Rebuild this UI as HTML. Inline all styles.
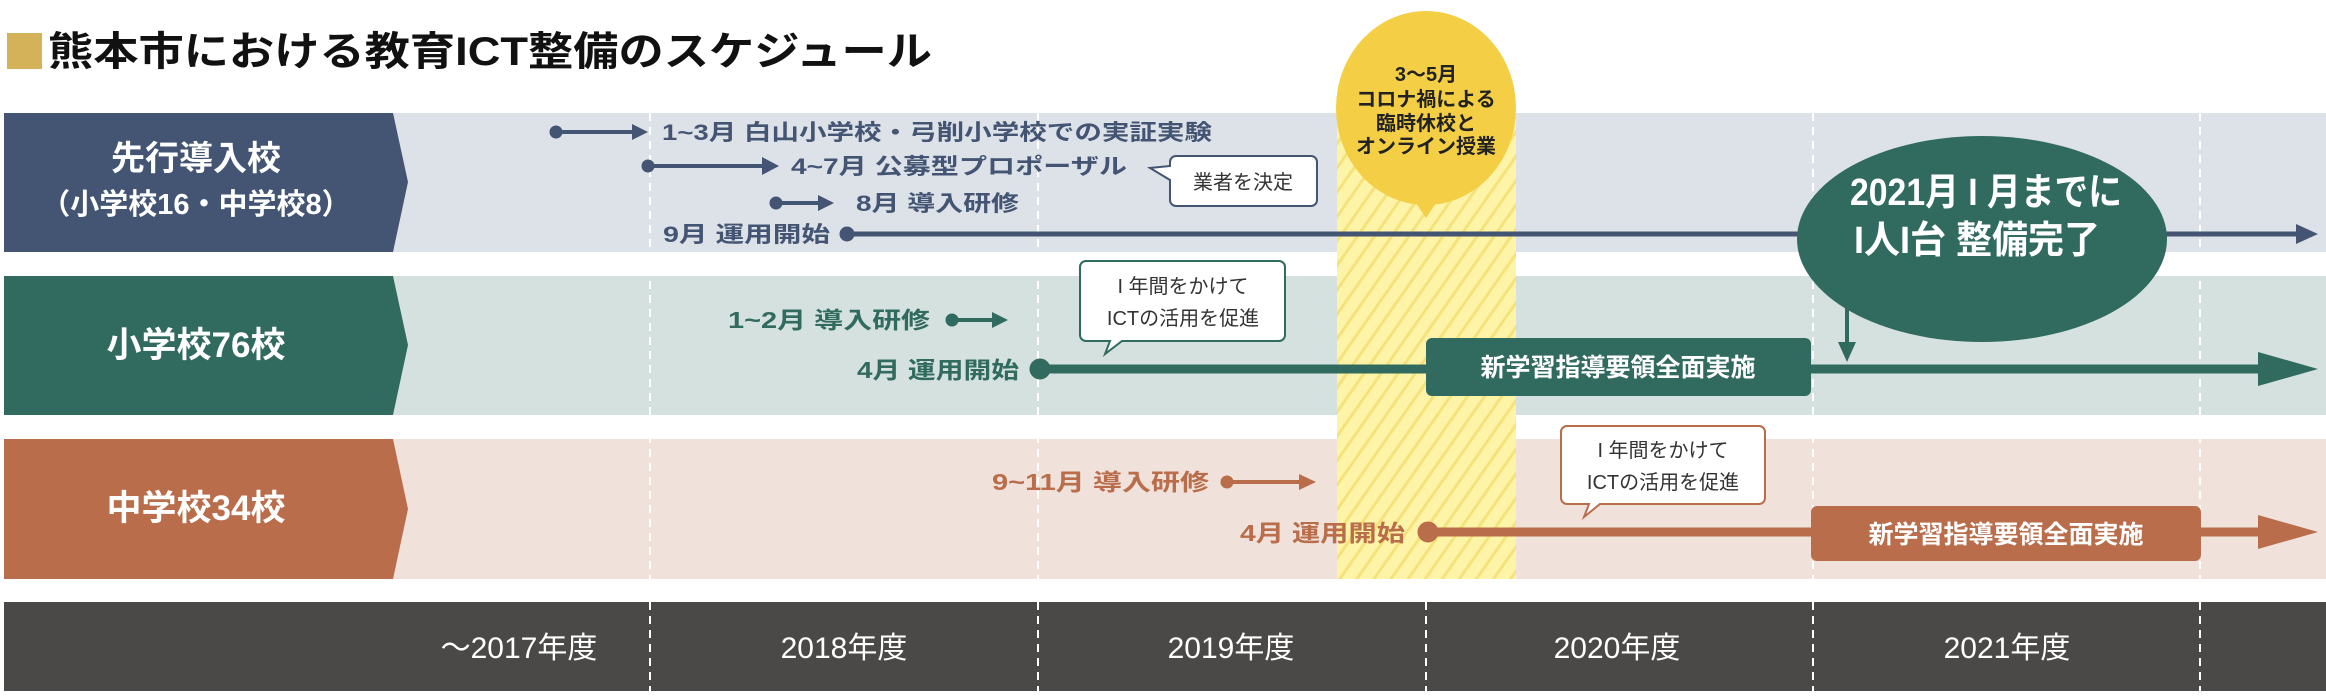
<!DOCTYPE html>
<html><head><meta charset="utf-8"><style>
html,body{margin:0;padding:0;background:#fff;}
svg{display:block;}
text{font-family:"Liberation Sans","Noto Sans CJK JP",sans-serif;}
</style></head><body>
<svg width="2326" height="696" viewBox="0 0 2326 696" xmlns="http://www.w3.org/2000/svg">
<defs>
<pattern id="st" width="14" height="14" patternUnits="userSpaceOnUse" patternTransform="rotate(35)">
<rect width="14" height="14" fill="#fdf4a8"/><rect width="3" height="14" fill="#f5e27a"/>
</pattern>
</defs>
<!-- title -->
<rect x="7" y="33" width="35" height="36" fill="#d4b25a"/>
<text x="48" y="65" font-size="40" font-weight="bold" fill="#111" textLength="884" lengthAdjust="spacingAndGlyphs">熊本市における教育ICT整備のスケジュール</text>

<!-- bands -->
<rect x="4" y="113" width="2322" height="139" fill="#dde1e8"/>
<rect x="4" y="276" width="2322" height="139" fill="#d5e1df"/>
<rect x="4" y="439" width="2322" height="140" fill="#f0e1db"/>
<!-- yellow column -->
<rect x="1337" y="110" width="179" height="469" fill="url(#st)"/>
<!-- dashed lines -->
<g stroke="#fff" stroke-width="2" stroke-dasharray="8,6">
<line x1="650" y1="113" x2="650" y2="579"/><line x1="1038" y1="113" x2="1038" y2="579"/>
<line x1="1813" y1="113" x2="1813" y2="579"/><line x1="2200" y1="113" x2="2200" y2="579"/>
</g>
<!-- labels -->
<polygon points="4,113 393,113 408,182 393,252 4,252" fill="#435573"/>
<polygon points="4,276 393,276 408,345 393,415 4,415" fill="#316a5f"/>
<polygon points="4,439 393,439 408,509 393,579 4,579" fill="#b96d4b"/>
<g fill="#fff" font-weight="bold" text-anchor="middle">
<text x="196" y="170" font-size="34">先行導入校</text>
<text x="196" y="214" font-size="29">（小学校16・中学校8）</text>
<text x="196" y="357" font-size="35">小学校76校</text>
<text x="196" y="520" font-size="35">中学校34校</text>
</g>

<!-- row1 -->
<g fill="#435573" stroke="#435573">
<circle cx="556" cy="132" r="6"/><line x1="556" y1="132" x2="635" y2="132" stroke-width="4"/><polygon points="632,124 648,132 632,140" stroke="none"/>
<circle cx="648" cy="166" r="6"/><line x1="648" y1="166" x2="765" y2="166" stroke-width="4"/><polygon points="762,157 779,166 762,175" stroke="none"/>
<circle cx="776" cy="203" r="6"/><line x1="776" y1="203" x2="822" y2="203" stroke-width="4"/><polygon points="818,195 834,203 818,211" stroke="none"/>
<circle cx="847" cy="234" r="7"/><line x1="847" y1="234" x2="2300" y2="234" stroke-width="5"/><polygon points="2296,224 2318,234 2296,244" stroke="none"/>
</g>
<g fill="#435573" font-weight="bold" font-size="22">
<text x="662" y="140" textLength="550" lengthAdjust="spacingAndGlyphs">1~3月 白山小学校・弓削小学校での実証実験</text>
<text x="791" y="174" textLength="336" lengthAdjust="spacingAndGlyphs">4~7月 公募型プロポーザル</text>
<text x="856" y="211" textLength="163" lengthAdjust="spacingAndGlyphs">8月 導入研修</text>
<text x="663" y="242" textLength="167" lengthAdjust="spacingAndGlyphs">9月 運用開始</text>
</g>
<path d="M1176,156 H1311 a6,6 0 0 1 6,6 V200 a6,6 0 0 1 -6,6 H1176 a6,6 0 0 1 -6,-6 V180 L1150,168 L1170,166 V162 a6,6 0 0 1 6,-6Z" fill="#fff" stroke="#435573" stroke-width="2"/>
<text x="1243" y="189" font-size="20" fill="#333" text-anchor="middle">業者を決定</text>

<!-- yellow ellipse -->
<ellipse cx="1426" cy="108" rx="90" ry="97" fill="#f4cf46"/>
<polygon points="1414,200 1438,200 1426,218" fill="#f4cf46"/>
<g font-size="20" font-weight="bold" fill="#222" text-anchor="middle">
<text x="1426" y="81">3～5月</text><text x="1426" y="106">コロナ禍による</text>
<text x="1426" y="130">臨時休校と</text><text x="1426" y="153">オンライン授業</text>
</g>

<!-- row2 -->
<g fill="#316a5f" stroke="#316a5f">
<circle cx="952" cy="320" r="6"/><line x1="952" y1="320" x2="995" y2="320" stroke-width="4"/><polygon points="992,312 1008,320 992,328" stroke="none"/>
<circle cx="1040" cy="369" r="10"/><line x1="1040" y1="369" x2="2262" y2="369" stroke-width="9"/><polygon points="2258,352 2318,369 2258,386" stroke="none"/>
</g>
<g fill="#316a5f" font-weight="bold" font-size="23">
<text x="728" y="328" textLength="202" lengthAdjust="spacingAndGlyphs">1~2月 導入研修</text>
<text x="857" y="378" textLength="162" lengthAdjust="spacingAndGlyphs">4月 運用開始</text>
</g>
<path d="M1086,261 H1279 a6,6 0 0 1 6,6 V335 a6,6 0 0 1 -6,6 H1122 L1105,354 L1110,341 H1086 a6,6 0 0 1 -6,-6 V267 a6,6 0 0 1 6,-6Z" fill="#fff" stroke="#316a5f" stroke-width="2"/>
<g font-size="20" fill="#333" text-anchor="middle"><text x="1183" y="293">I 年間をかけて</text><text x="1183" y="325">ICTの活用を促進</text></g>
<rect x="1426" y="338" width="385" height="58" rx="6" fill="#316a5f"/>
<text x="1618" y="376" font-size="25" font-weight="bold" fill="#fff" text-anchor="middle">新学習指導要領全面実施</text>

<!-- green ellipse -->
<ellipse cx="1982" cy="239" rx="185" ry="103" fill="#316a5f"/>
<line x1="1847" y1="280" x2="1847" y2="345" stroke="#316a5f" stroke-width="4"/>
<polygon points="1838,342 1856,342 1847,362" fill="#316a5f"/>
<g fill="#fff" font-weight="bold" font-size="38">
<text x="1850" y="205" textLength="272" lengthAdjust="spacingAndGlyphs">2021月 I 月までに</text>
<text x="1854" y="253" textLength="246" lengthAdjust="spacingAndGlyphs">I人I台 整備完了</text>
</g>

<!-- row3 -->
<g fill="#b96d4b" stroke="#b96d4b">
<circle cx="1227" cy="482" r="6"/><line x1="1227" y1="482" x2="1302" y2="482" stroke-width="4"/><polygon points="1299,474 1316,482 1299,490" stroke="none"/>
<circle cx="1428" cy="532" r="10"/><line x1="1428" y1="532" x2="2262" y2="532" stroke-width="9"/><polygon points="2258,515 2318,532 2258,549" stroke="none"/>
</g>
<g fill="#b96d4b" font-weight="bold" font-size="23">
<text x="992" y="490" textLength="217" lengthAdjust="spacingAndGlyphs">9~11月 導入研修</text>
<text x="1240" y="541" textLength="165" lengthAdjust="spacingAndGlyphs">4月 運用開始</text>
</g>
<path d="M1567,426 H1759 a6,6 0 0 1 6,6 V498 a6,6 0 0 1 -6,6 H1600 L1584,517 L1589,504 H1567 a6,6 0 0 1 -6,-6 V432 a6,6 0 0 1 6,-6Z" fill="#fff" stroke="#b96d4b" stroke-width="2"/>
<g font-size="20" fill="#333" text-anchor="middle"><text x="1663" y="457">I 年間をかけて</text><text x="1663" y="489">ICTの活用を促進</text></g>
<rect x="1811" y="506" width="390" height="55" rx="6" fill="#b96d4b"/>
<text x="2006" y="543" font-size="25" font-weight="bold" fill="#fff" text-anchor="middle">新学習指導要領全面実施</text>

<!-- bottom bar -->
<rect x="4" y="602" width="2322" height="89" fill="#4a4947"/>
<g stroke="#fff" stroke-width="2" stroke-dasharray="8,6">
<line x1="650" y1="602" x2="650" y2="691"/><line x1="1038" y1="602" x2="1038" y2="691"/>
<line x1="1426" y1="602" x2="1426" y2="691"/><line x1="1813" y1="602" x2="1813" y2="691"/><line x1="2200" y1="602" x2="2200" y2="691"/>
</g>
<g fill="#fff" font-size="30" text-anchor="middle">
<text x="519" y="658">～2017年度</text><text x="844" y="658">2018年度</text>
<text x="1231" y="658">2019年度</text><text x="1617" y="658">2020年度</text><text x="2007" y="658">2021年度</text>
</g>
</svg>
</body></html>
